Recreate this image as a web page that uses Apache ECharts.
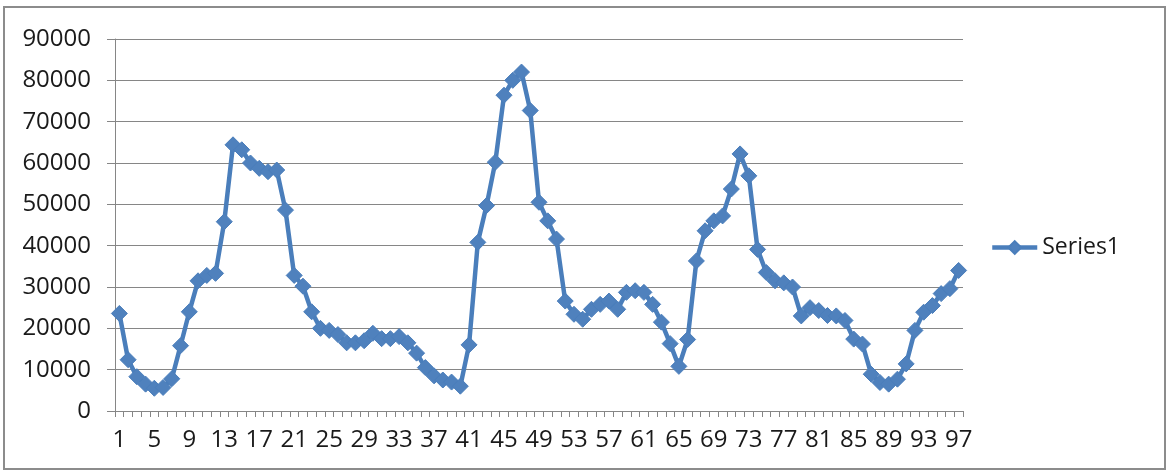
<!DOCTYPE html>
<html>
<head>
<meta charset="utf-8">
<script src="https://cdn.jsdelivr.net/npm/echarts@6/dist/echarts.min.js"></script>
<style>
html,body{margin:0;padding:0;background:#fff;}
#chart{width:1169px;height:472px;}
</style>
</head>
<body>
<div id="chart"></div>
<script>
const categories = [
  '1','2','3','4','5','6','7','8','9','10',
  '11','12','13','14','15','16','17','18','19','20',
  '21','22','23','24','25','26','27','28','29','30',
  '31','32','33','34','35','36','37','38','39','40',
  '41','42','43','44','45','46','47','48','49','50',
  '51','52','53','54','55','56','57','58','59','60',
  '61','62','63','64','65','66','67','68','69','70',
  '71','72','73','74','75','76','77','78','79','80',
  '81','82','83','84','85','86','87','88','89','90',
  '91','92','93','94','95','96','97'
];
const series1 = [
  23600, 12400, 8300, 6500, 5500, 5700, 7800, 15800, 24000, 31500,
  32800, 33300, 45800, 64400, 63200, 60000, 58700, 57900, 58300, 48600,
  32800, 30200, 24000, 20000, 19500, 18500, 16500, 16500, 17000, 18800,
  17500, 17500, 18000, 16500, 14000, 10500, 8500, 7500, 7000, 6000,
  16000, 40800, 49700, 60200, 76400, 80000, 82000, 72700, 50500, 46000,
  41600, 26600, 23400, 22200, 24600, 25800, 26600, 24600, 28700, 29100,
  28700, 25800, 21500, 16300, 10800, 17300, 36300, 43600, 46000, 47200,
  53700, 62200, 56900, 39100, 33500, 31500, 31000, 30000, 23000, 25000,
  24300, 23100, 23000, 21900, 17400, 16200, 8900, 6900, 6500, 7700,
  11400, 19500, 23900, 25500, 28400, 29600, 34000
];
const yMin = 0, yMax = 90000, yStep = 10000;
const seriesName = 'Series1';

const FONT = 'Open Sans';
const chart = echarts.init(document.getElementById('chart'), null, {renderer: 'canvas'});
chart.setOption({
  backgroundColor: '#ffffff',
  animation: false,
  graphic: [{
    type: 'rect',
    shape: {x: 4, y: 7, width: 1161, height: 462},
    style: {fill: 'none', stroke: '#8c8c8c', lineWidth: 2},
    silent: true
  }],
  grid: {left: 115, right: 206, top: 39, bottom: 61, outerBoundsMode: 'none'},
  legend: {
    data: [seriesName],
    orient: 'vertical',
    left: 985,
    top: 231,
    itemWidth: 45,
    itemHeight: 16,
    itemGap: 4,
    lineStyle: {width: 4.5, color: '#4A7EBB'},
    textStyle: {fontFamily: FONT, fontSize: 23, color: '#1a1a1a'}
  },
  xAxis: {
    type: 'category',
    data: categories,
    boundaryGap: true,
    axisLine: {show: true, lineStyle: {color: '#868686', width: 1}},
    axisTick: {show: true, interval: 0, length: 6, lineStyle: {color: '#868686'}},
    axisLabel: {interval: 3, margin: 17, fontFamily: FONT, fontSize: 24, color: '#1a1a1a'},
    splitLine: {show: false}
  },
  yAxis: {
    type: 'value',
    min: yMin, max: yMax, interval: yStep,
    axisLine: {show: true, lineStyle: {color: '#868686', width: 1}},
    axisTick: {show: true, length: 8, lineStyle: {color: '#868686'}},
    axisLabel: {margin: 24, fontFamily: FONT, fontSize: 24, color: '#1a1a1a',
      formatter: function (v) { return String(v); }},
    splitLine: {show: true, lineStyle: {color: '#868686', width: 1}}
  },
  series: [{
    name: seriesName,
    type: 'line',
    data: series1,
    symbol: 'diamond',
    symbolSize: 16,
    showAllSymbol: true,
    lineStyle: {color: '#4A7EBB', width: 4.5},
    itemStyle: {color: '#4F81BD', borderColor: '#4A7EBB', borderWidth: 1}
  }]
});
</script>
</body>
</html>
